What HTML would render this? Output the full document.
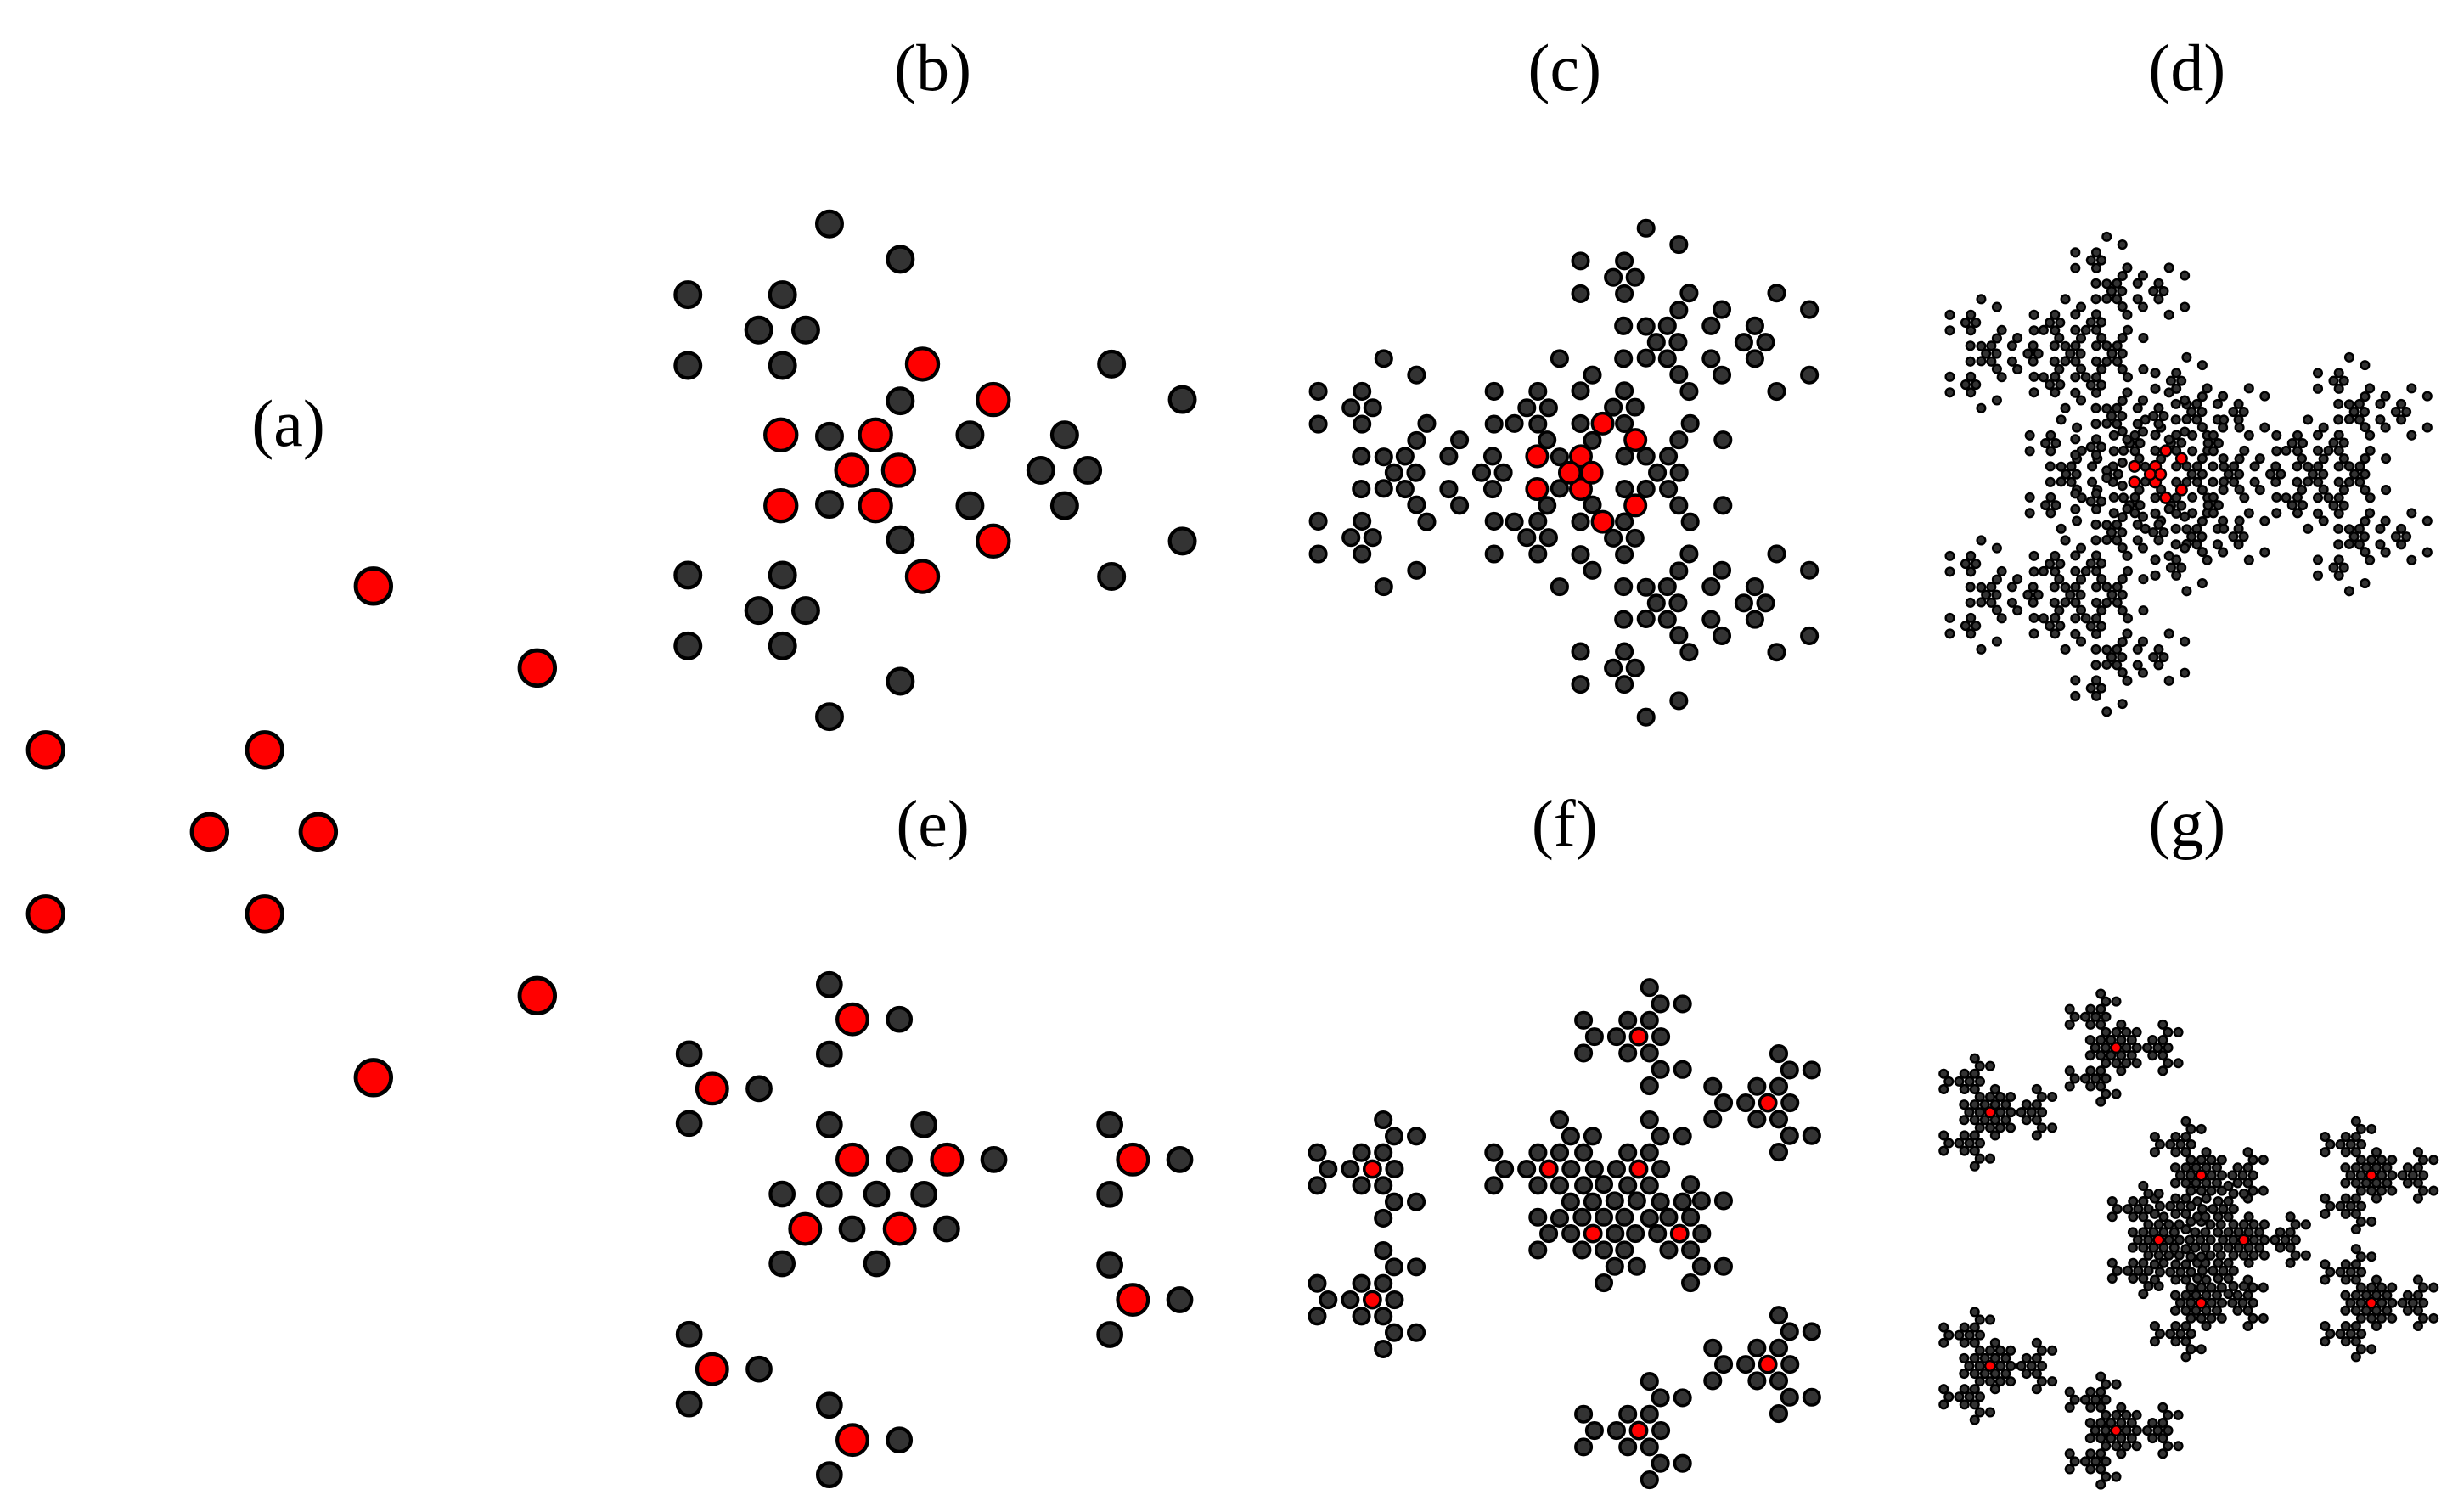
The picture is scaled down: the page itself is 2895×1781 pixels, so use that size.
<!DOCTYPE html>
<html><head><meta charset="utf-8">
<style>
html,body{margin:0;padding:0;background:#fff;}
svg{display:block;}
text{font-family:"Liberation Serif",serif;font-size:42px;fill:#000;}
</style></head>
<body>
<svg id="s" xmlns="http://www.w3.org/2000/svg" width="2895" height="1781" viewBox="0 0 1560 959.7" preserveAspectRatio="none">
<rect x="0" y="0" width="1560" height="960" fill="#fff"/>
<text x="183" y="283" text-anchor="middle">(a)</text>
<text x="592" y="57" text-anchor="middle">(b)</text>
<text x="993" y="57" text-anchor="middle">(c)</text>
<text x="1388" y="57" text-anchor="middle">(d)</text>
<text x="592" y="537" text-anchor="middle">(e)</text>
<text x="993" y="537" text-anchor="middle">(f)</text>
<text x="1388" y="537" text-anchor="middle">(g)</text>
<g id="dots"></g>
</svg>
<script>
(function(){
var NS="http://www.w3.org/2000/svg";
var g=document.getElementById("dots");
function dot(x,y,r,red,sw){
  var c=document.createElementNS(NS,"circle");
  c.setAttribute("cx",x.toFixed(2));c.setAttribute("cy",y.toFixed(2));
  c.setAttribute("r",r);c.setAttribute("fill",red?"#ff0000":"#333333");
  c.setAttribute("stroke","#000");c.setAttribute("stroke-width",sw);
  g.appendChild(c);
}
var A=[[29,476],[29,580],[168,476],[168,580],[133,528],[202,528],[237,372],[341,424],[341,632],[237,684]];
var D=[168,528];
var V=[[-59,-89],[-59,89],[120,0]];
function offsets(coeffs){
  var o=[[0,0,true]];
  coeffs.forEach(function(c){
    var n=[];
    o.forEach(function(p){
      n.push(p);
      V.forEach(function(v){n.push([p[0]+c*v[0],p[1]+c*v[1],false]);});
    });
    o=n;
  });
  return o;
}
function draw(pts,rg,rr,sw){
  pts.forEach(function(p){if(!p[2])dot(p[0],p[1],rg,false,sw);});
  pts.forEach(function(p){if(p[2])dot(p[0],p[1],rr,true,sw);});
}
function top(s,coeffs,cx,cy,rg,rr,sw){
  var o=offsets(coeffs),pts=[],mn=1e9,mx=-1e9;
  o.forEach(function(q){
    A.forEach(function(a){
      var x=(a[0]-D[0])*s+q[0],y=(a[1]-D[1])*s+q[1];
      pts.push([x,y,q[2]]);mn=Math.min(mn,x);mx=Math.max(mx,x);
    });
  });
  var sh=cx-(mn+mx)/2;
  pts.forEach(function(p){p[0]+=sh;p[1]+=cy;});
  draw(pts,rg,rr,sw);
}
function bot(reds,coeffs,rg,rr,sw){
  var o=offsets(coeffs),pts=[];
  reds.forEach(function(r){o.forEach(function(q){pts.push([r[0]+q[0],r[1]+q[1],q[2]]);});});
  draw(pts,rg,rr,sw);
}
// panel a
A.forEach(function(a){dot(a[0],a[1],11.2,true,2.6);});
// top row
top(0.432,[1],593.5,298.5,8,10,2.3);
top(0.2,[-0.93,0.463],992.5,300,5,6.6,1.9);
top(0.0957,[0.86,-0.445,0.221],1389,301,2.6,3.4,1.3);
// bottom row
var E=[[541,647],[452,691],[541,736],[601,736],[511,780],[571,780],[719,736],[719,825],[452,869],[541,914]];
var F=[[1040,658],[1122,700],[871,742],[983,742],[1040,742],[1011,783],[1066,783],[871,825],[1122,866],[1040,908]];
var G=[[1343,665],[1263,706],[1397,746],[1505,746],[1370,787],[1424,787],[1397,827],[1505,827],[1263,867],[1343,908]];
bot(E,[0.248],7.4,9.6,2.3);
bot(F,[-0.234,0.117],5,5.2,1.9);
bot(G,[0.22,-0.11,0.055],2.6,3.1,1.3);
})();
</script>
</body></html>
